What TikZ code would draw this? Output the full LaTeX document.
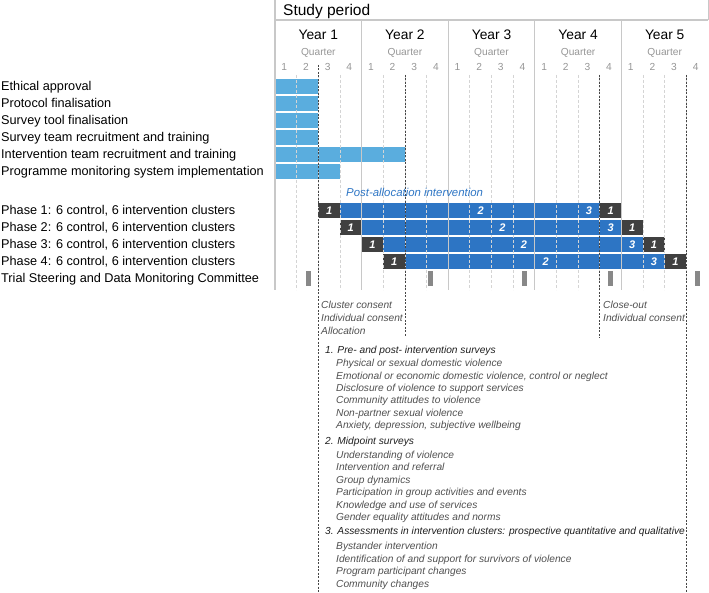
\documentclass[tikz,border=0pt]{standalone}
\usepackage{fontspec}
\setmainfont{Liberation Sans}
\definecolor{lightbar}{RGB}{90,173,222}
\definecolor{darkbar}{RGB}{45,117,196}
\definecolor{darkbox}{RGB}{64,64,64}
\definecolor{marker}{RGB}{136,136,136}
\definecolor{gridc}{RGB}{212,212,212}
\definecolor{framec}{RGB}{200,200,200}
\definecolor{qtext}{RGB}{150,150,150}
\definecolor{itext}{RGB}{80,80,80}
\definecolor{dashc}{RGB}{70,70,70}
\tikzset{
  lbl/.style={anchor=base west,inner sep=0,font=\fontsize{12.7}{15}\selectfont},
  yearlbl/.style={anchor=base,inner sep=0,font=\fontsize{13.8}{16}\selectfont},
  qlbl/.style={anchor=base,inner sep=0,text=qtext,font=\fontsize{10.2}{12}\selectfont},
  inum/.style={anchor=base,inner sep=0,text=white,font=\fontsize{11}{13}\selectfont\bfseries\itshape},
  itlbl/.style={anchor=base west,inner sep=0,text=itext,font=\fontsize{10.2}{12}\selectfont\itshape},
  ithead/.style={anchor=base west,inner sep=0,text=black!88,font=\fontsize{10.2}{12}\selectfont\itshape},
  qgrid/.style={draw=gridc,line width=0.8pt,dash pattern=on 3pt off 2pt},
  ygrid/.style={draw=framec,line width=1.2pt},
  framel/.style={draw=framec,line width=1.5pt},
  darkdash/.style={draw=dashc,line width=0.8pt,dash pattern=on 2pt off 1.5pt},
}
\begin{document}
\begin{tikzpicture}[x=1pt,y=-1pt,declare function={qx(\q)=275+21.65*\q;}]
\useasboundingbox (0,0) rectangle (709,593);
% preparatory bars
\foreach \r/\e in {0/2,1/2,2/2,3/2,4/6,5/3}{
  \fill[lightbar] (276,{79+17*\r}) rectangle ({qx(\e)},{94+17*\r});
}
% phase bars
\foreach \j in {0,1,2,3}{
  \fill[darkbox] ({qx(2+\j)},{203+17*\j}) rectangle ({qx(3+\j)},{218+17*\j});
  \fill[darkbar] ({qx(3+\j)},{203+17*\j}) rectangle ({qx(15+\j)},{218+17*\j});
  \fill[darkbox] ({qx(15+\j)},{203+17*\j}) rectangle ({qx(16+\j)},{218+17*\j});
}
% committee markers
\foreach \m in {308,430,524.5,610.5,697}{
  \fill[marker] ({\m-2.5},271) rectangle ({\m+2.5},286);
}
% grid
\foreach \q in {1,2,3,5,6,7,9,10,11,13,14,15,17,18,19}{
  \draw[qgrid] ({qx(\q)},75) -- ({qx(\q)},290);
}
\foreach \q in {4,8,12,16}{
  \draw[ygrid] ({qx(\q)},20) -- ({qx(\q)},290);
}
\coordinate (fTL) at (275,0);
\coordinate (fBL) at (275,290);
\coordinate (fHL) at (275,20);
\coordinate (fHR) at (708.3,20);
\coordinate (fTR) at (708.3,0);
\draw[framel] (fTL) -- (fBL);
\draw[framel] (fHL) -- (fHR);
\draw[framel] (fTR) -- (fHR);
% milestone dashed lines
\coordinate (d1t) at ({qx(2)},65);  \coordinate (d1b) at ({qx(2)},593);
\coordinate (d2t) at ({qx(6)},75);  \coordinate (d2b) at ({qx(6)},336);
\coordinate (d3t) at ({qx(15)},75); \coordinate (d3b) at ({qx(15)},338);
\coordinate (d4t) at ({qx(19)},75); \coordinate (d4b) at ({qx(19)},593);
\draw[darkdash] (d1t) -- (d1b);
\draw[darkdash] (d2t) -- (d2b);
\draw[darkdash] (d3t) -- (d3b);
\draw[darkdash] (d4t) -- (d4b);
% numbers in bars
\foreach \j in {0,1,2,3}{
  \node[inum] (na\j) at ({qx(2.5+\j)},{214.5+17*\j}) {1};
  \node[inum] (nb\j) at ({qx(9.5+\j)},{214.5+17*\j}) {2};
  \node[inum] (nc\j) at ({qx(14.5+\j)},{214.5+17*\j}) {3};
  \node[inum] (nd\j) at ({qx(15.5+\j)},{214.5+17*\j}) {1};
}
% header
\node[anchor=base west,inner sep=0,font=\fontsize{15.5}{18}\selectfont] (study) at (283,15.5) {Study period};
\foreach \y in {1,...,5}{
  \node[yearlbl] (yr\y) at ({qx(4*\y-2)},40) {Year \y};
  \node[qlbl] (qt\y) at ({qx(4*\y-2)},55.6) {Quarter};
  \foreach \k in {1,...,4}{
    \node[qlbl] (qn\y\k) at ({qx(4*\y-4+\k-0.5)-1.5},70.6) {\k};
  }
}
% left labels
\node[lbl] (l1) at (1,91) {Ethical approval};
\node[lbl] (l2) at (1,108) {Protocol finalisation};
\node[lbl] (l3) at (1,125) {Survey tool finalisation};
\node[lbl] (l4) at (1,142) {Survey team recruitment and training};
\node[lbl] (l5) at (1,159) {Intervention team recruitment and training};
\node[lbl] (l6) at (1,176) {Programme monitoring system implementation};
\node[lbl] (p1) at (1,215) {Phase 1: 6 control, 6 intervention clusters};
\node[lbl] (p2) at (1,232) {Phase 2: 6 control, 6 intervention clusters};
\node[lbl] (p3) at (1,249) {Phase 3: 6 control, 6 intervention clusters};
\node[lbl] (p4) at (1,266) {Phase 4: 6 control, 6 intervention clusters};
\node[lbl] (tsc) at (1,283) {Trial Steering and Data Monitoring Committee};
\node[anchor=base west,inner sep=0,text=darkbar,font=\fontsize{11.4}{14}\selectfont\itshape] (post) at (346,197) {Post-allocation intervention};
% consent labels
\node[itlbl] (c1) at (321,308.7) {Cluster consent};
\node[itlbl] (c2) at (321,321.5) {Individual consent};
\node[itlbl] (c3) at (321,334.3) {Allocation};
\node[itlbl] (e1) at (603,308.7) {Close-out};
\node[itlbl] (e2) at (603,321.5) {Individual consent};
% surveys
\node[ithead] (h1) at (325,353.7) {1. Pre- and post- intervention surveys};
\node[itlbl] (a1) at (336,366.5) {Physical or sexual domestic violence};
\node[itlbl] (a2) at (336,379.2) {Emotional or economic domestic violence, control or neglect};
\node[itlbl] (a3) at (336,391.6) {Disclosure of violence to support services};
\node[itlbl] (a4) at (336,403.9) {Community attitudes to violence};
\node[itlbl] (a5) at (336,416.2) {Non-partner sexual violence};
\node[itlbl] (a6) at (336,428.6) {Anxiety, depression, subjective wellbeing};
\node[ithead] (h2) at (325,444.5) {2. Midpoint surveys};
\node[itlbl] (b1) at (336,458) {Understanding of violence};
\node[itlbl] (b2) at (336,470.5) {Intervention and referral};
\node[itlbl] (b3) at (336,483) {Group dynamics};
\node[itlbl] (b4) at (336,495.5) {Participation in group activities and events};
\node[itlbl] (b5) at (336,508) {Knowledge and use of services};
\node[itlbl] (b6) at (336,520.5) {Gender equality attitudes and norms};
\node[ithead] (h3) at (325,534) {3. Assessments in intervention clusters: prospective quantitative and qualitative};
\node[itlbl] (s1) at (336,549.5) {Bystander intervention};
\node[itlbl] (s2) at (336,562) {Identification of and support for survivors of violence};
\node[itlbl] (s3) at (336,574.5) {Program participant changes};
\node[itlbl] (s4) at (336,587) {Community changes};
\end{tikzpicture}
\end{document}
